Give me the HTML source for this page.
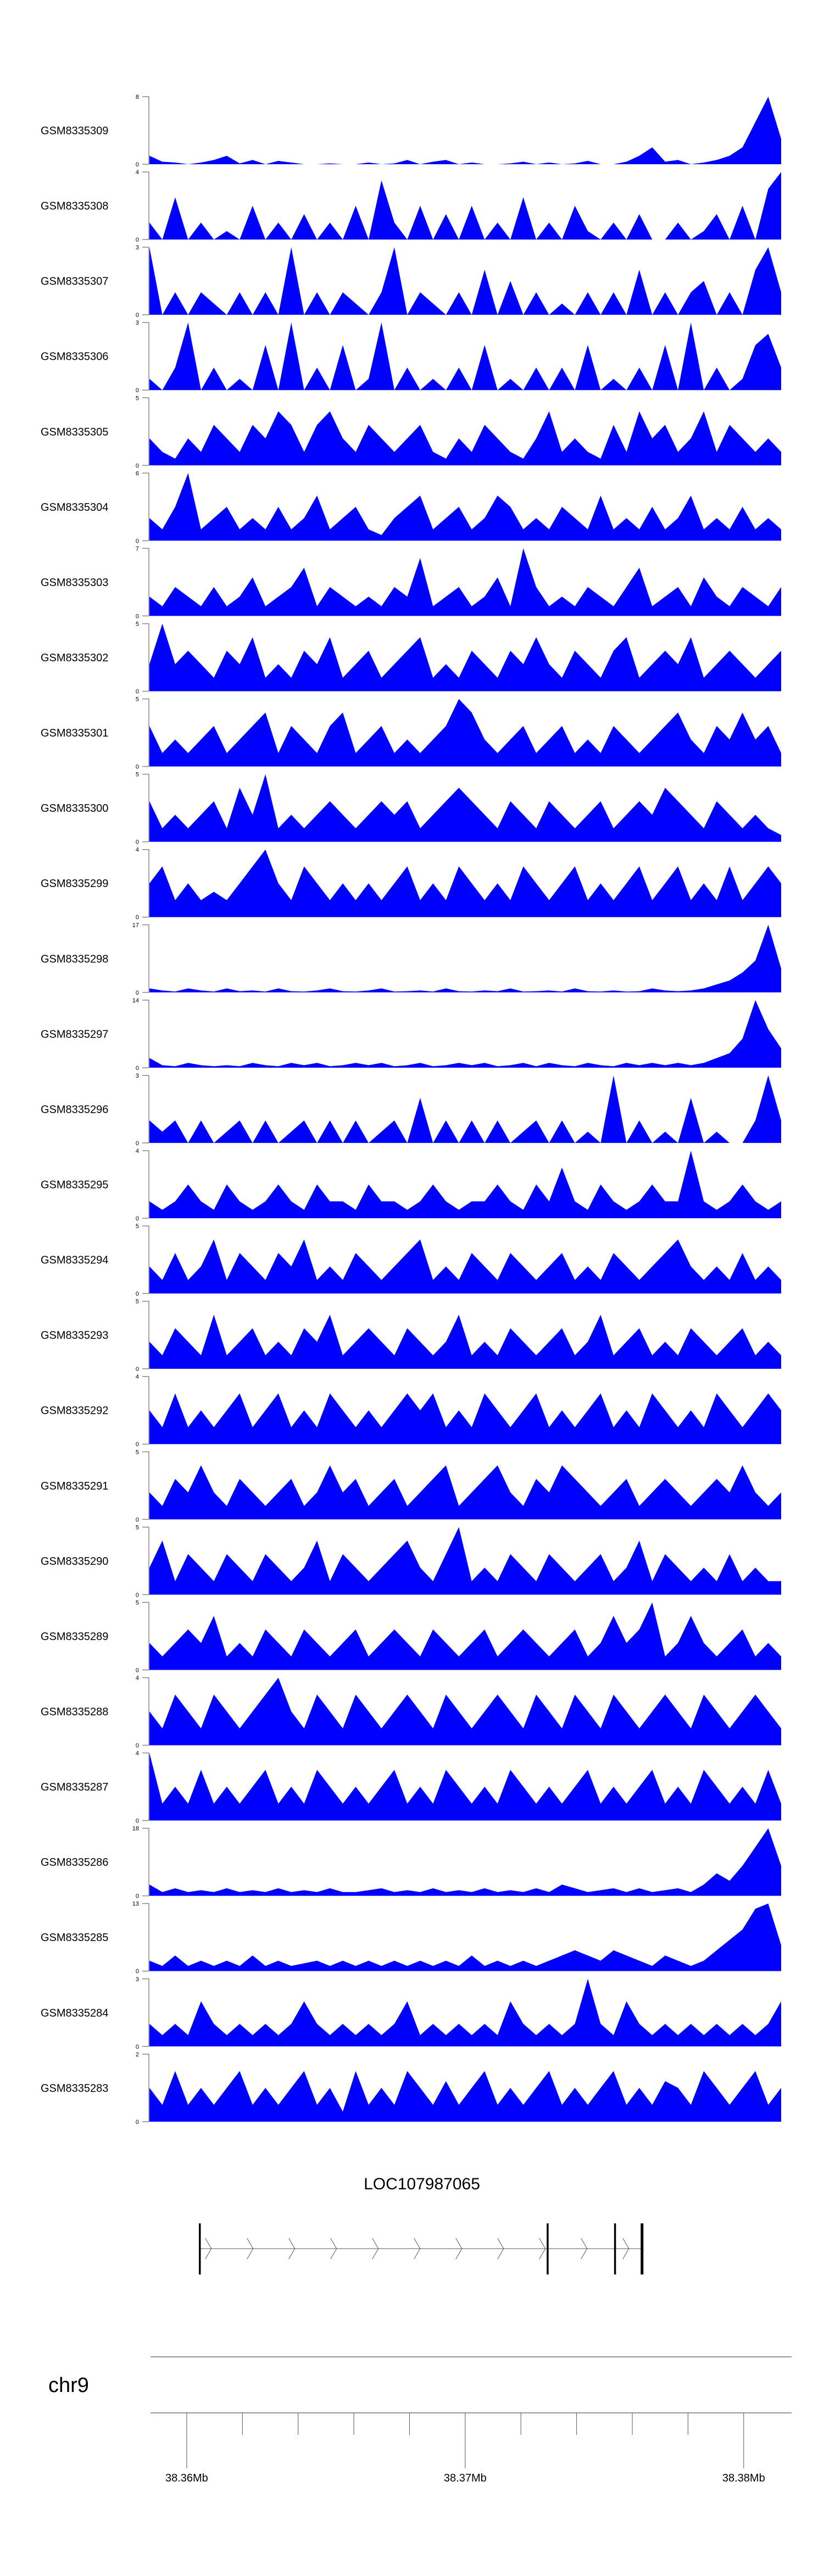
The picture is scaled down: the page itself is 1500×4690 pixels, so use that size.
<!DOCTYPE html>
<html><head><meta charset="utf-8"><title>Coverage tracks</title>
<style>
html,body{margin:0;padding:0;background:#fff;}
svg{display:block;font-family:"Liberation Sans",Arial,sans-serif;}
</style></head>
<body>
<svg id="chart" width="1500" height="4690" viewBox="0 0 1500 4690" xmlns="http://www.w3.org/2000/svg"></svg>
<script>
const sampleNames = ["GSM8335309","GSM8335308","GSM8335307","GSM8335306","GSM8335305","GSM8335304","GSM8335303","GSM8335302","GSM8335301","GSM8335300","GSM8335299","GSM8335298","GSM8335297","GSM8335296","GSM8335295","GSM8335294","GSM8335293","GSM8335292","GSM8335291","GSM8335290","GSM8335289","GSM8335288","GSM8335287","GSM8335286","GSM8335285","GSM8335284","GSM8335283"];
const yMax = [8,4,3,3,5,6,7,5,5,5,4,17,14,3,4,5,5,4,5,5,5,4,4,18,13,3,2];
const s309 = [1,0.3,0.2,0,0.2,0.5,1,0.1,0.5,0,0.4,0.2,0,0,0.1,0,0,0.2,0,0.1,0.5,0,0.3,0.5,0,0.2,0,0,0.1,0.3,0,0.2,0,0.1,0.4,0,0,0.3,1,2,0.3,0.5,0,0.2,0.5,1,2,5,8,3];
const s308 = [1,0,2.5,0,1,0,0.5,0,2,0,1,0,1.5,0,1,0,2,0,3.5,1,0,2,0,1.5,0,2,0,1,0,2.5,0,1,0,2,0.5,0,1,0,1.5,0,0,1,0,0.5,1.5,0,2,0,3,4];
const s307 = [3,0,1,0,1,0.5,0,1,0,1,0,3,0,1,0,1,0.5,0,1,3,0,1,0.5,0,1,0,2,0,1.5,0,1,0,0.5,0,1,0,1,0,2,0,1,0,1,1.5,0,1,0,2,3,1];
const s306 = [0.5,0,1,3,0,1,0,0.5,0,2,0,3,0,1,0,2,0,0.5,3,0,1,0,0.5,0,1,0,2,0,0.5,0,1,0,1,0,2,0,0.5,0,1,0,2,0,3,0,1,0,0.5,2,2.5,1];
const s305 = [2,1,0.5,2,1,3,2,1,3,2,4,3,1,3,4,2,1,3,2,1,2,3,1,0.5,2,1,3,2,1,0.5,2,4,1,2,1,0.5,3,1,4,2,3,1,2,4,1,3,2,1,2,1];
const s304 = [2,1,3,6,1,2,3,1,2,1,3,1,2,4,1,2,3,1,0.5,2,3,4,1,2,3,1,2,4,3,1,2,1,3,2,1,4,1,2,1,3,1,2,4,1,2,1,3,1,2,1];
const s303 = [2,1,3,2,1,3,1,2,4,1,2,3,5,1,3,2,1,2,1,3,2,6,1,2,3,1,2,4,1,7,3,1,2,1,3,2,1,3,5,1,2,3,1,4,2,1,3,2,1,3];
const s302 = [2,5,2,3,2,1,3,2,4,1,2,1,3,2,4,1,2,3,1,2,3,4,1,2,1,3,2,1,3,2,4,2,1,3,2,1,3,4,1,2,3,2,4,1,2,3,2,1,2,3];
const s301 = [3,1,2,1,2,3,1,2,3,4,1,3,2,1,3,4,1,2,3,1,2,1,2,3,5,4,2,1,2,3,1,2,3,1,2,1,3,2,1,2,3,4,2,1,3,2,4,2,3,1];
const s300 = [3,1,2,1,2,3,1,4,2,5,1,2,1,2,3,2,1,2,3,2,3,1,2,3,4,3,2,1,3,2,1,3,2,1,2,3,1,2,3,2,4,3,2,1,3,2,1,2,1,0.5];
const s299 = [2,3,1,2,1,1.5,1,2,3,4,2,1,3,2,1,2,1,2,1,2,3,1,2,1,3,2,1,2,1,3,2,1,2,3,1,2,1,2,3,1,2,3,1,2,1,3,1,2,3,2];
const s298 = [1,0.5,0.2,1,0.5,0.2,1,0.3,0.5,0.2,1,0.3,0.2,0.5,1,0.3,0.2,0.5,1,0.2,0.3,0.5,0.2,1,0.3,0.2,0.5,0.3,1,0.2,0.3,0.5,0.2,1,0.3,0.2,0.5,0.2,0.3,1,0.5,0.3,0.5,1,2,3,5,8,17,6];
const s297 = [2,0.5,0.3,1,0.5,0.3,0.5,0.3,1,0.5,0.3,1,0.5,1,0.3,0.5,1,0.5,1,0.3,0.5,1,0.3,0.5,1,0.5,1,0.3,0.5,1,0.3,1,0.5,0.3,1,0.5,0.3,1,0.5,1,0.5,1,0.5,1,2,3,6,14,8,4];
const s296 = [1,0.5,1,0,1,0,0.5,1,0,1,0,0.5,1,0,1,0,1,0,0.5,1,0,2,0,1,0,1,0,1,0,0.5,1,0,1,0,0.5,0,3,0,1,0,0.5,0,2,0,0.5,0,0,1,3,1];
const s295 = [1,0.5,1,2,1,0.5,2,1,0.5,1,2,1,0.5,2,1,1,0.5,2,1,1,0.5,1,2,1,0.5,1,1,2,1,0.5,2,1,3,1,0.5,2,1,0.5,1,2,1,1,4,1,0.5,1,2,1,0.5,1];
const s294 = [2,1,3,1,2,4,1,3,2,1,3,2,4,1,2,1,3,2,1,2,3,4,1,2,1,3,2,1,3,2,1,2,3,1,2,1,3,2,1,2,3,4,2,1,2,1,3,1,2,1];
const s293 = [2,1,3,2,1,4,1,2,3,1,2,1,3,2,4,1,2,3,2,1,3,2,1,2,4,1,2,1,3,2,1,2,3,1,2,4,1,2,3,1,2,1,3,2,1,2,3,1,2,1];
const s292 = [2,1,3,1,2,1,2,3,1,2,3,1,2,1,3,2,1,2,1,2,3,2,3,1,2,1,3,2,1,2,3,1,2,1,2,3,1,2,1,3,2,1,2,1,3,2,1,2,3,2];
const s291 = [2,1,3,2,4,2,1,3,2,1,2,3,1,2,4,2,3,1,2,3,1,2,3,4,1,2,3,4,2,1,3,2,4,3,2,1,2,3,1,2,3,2,1,2,3,2,4,2,1,2];
const s290 = [2,4,1,3,2,1,3,2,1,3,2,1,2,4,1,3,2,1,2,3,4,2,1,3,5,1,2,1,3,2,1,3,2,1,2,3,1,2,4,1,3,2,1,2,1,3,1,2,1,1];
const s289 = [2,1,2,3,2,4,1,2,1,3,2,1,3,2,1,2,3,1,2,3,2,1,3,2,1,2,3,1,2,3,2,1,2,3,1,2,4,2,3,5,1,2,4,2,1,2,3,1,2,1];
const s288 = [2,1,3,2,1,3,2,1,2,3,4,2,1,3,2,1,3,2,1,2,3,2,1,3,2,1,2,3,2,1,3,2,1,3,2,1,3,2,1,2,3,2,1,3,2,1,2,3,2,1];
const s287 = [4,1,2,1,3,1,2,1,2,3,1,2,1,3,2,1,2,1,2,3,1,2,1,3,2,1,2,1,3,2,1,2,1,2,3,1,2,1,2,3,1,2,1,3,2,1,2,1,3,1];
const s286 = [3,1,2,1,1.5,1,2,1,1.5,1,2,1,1.5,1,2,1,1,1.5,2,1,1.5,1,2,1,1.5,1,2,1,1.5,1,2,1,3,2,1,1.5,2,1,2,1,1.5,2,1,3,6,4,8,13,18,8];
const s285 = [2,1,3,1,2,1,2,1,3,1,2,1,1.5,2,1,2,1,2,1,2,1,2,1,2,1,3,1,2,1,2,1,2,3,4,3,2,4,3,2,1,3,2,1,2,4,6,8,12,13,5];
const s284 = [1,0.5,1,0.5,2,1,0.5,1,0.5,1,0.5,1,2,1,0.5,1,0.5,1,0.5,1,2,0.5,1,0.5,1,0.5,1,0.5,2,1,0.5,1,0.5,1,3,1,0.5,2,1,0.5,1,0.5,1,0.5,1,0.5,1,0.5,1,2];
const s283 = [1,0.5,1.5,0.5,1,0.5,1,1.5,0.5,1,0.5,1,1.5,0.5,1,0.3,1.5,0.5,1,0.5,1.5,1,0.5,1.2,0.5,1,1.5,0.5,1,0.5,1,1.5,0.5,1,0.5,1,1.5,0.5,1,0.5,1.2,1,0.5,1.5,1,0.5,1,1.5,0.5,1];
const seriesList = [s309,s308,s307,s306,s305,s304,s303,s302,s301,s300,s299,s298,s297,s296,s295,s294,s293,s292,s291,s290,s289,s288,s287,s286,s285,s284,s283];
const geneName = "LOC107987065";
const genomeStart = 38.35870, genomeEnd = 38.38172;
const majorTicks = [38.36,38.37,38.38];
const majorTickLabels = ["38.36Mb","38.37Mb","38.38Mb"];
const exonPos = [38.36047,38.37296,38.37538,38.37635];

const NS="http://www.w3.org/2000/svg";
const svg=document.getElementById('chart');
function mk(tag,attrs,parent){const e=document.createElementNS(NS,tag);for(const k in attrs)e.setAttribute(k,attrs[k]);(parent||svg).appendChild(e);return e;}
const X0=272,X1=1422,TOP0=176,PITCH=137.07,TH=123;
function xOf(i,n){return X0+(X1-X0)*i/(n-1);}
function gx(p){return 274+(p-genomeStart)/(genomeEnd-genomeStart)*(1441-274);}

seriesList.forEach((vals,t)=>{
  const top=TOP0+t*PITCH, bot=top+TH;
  const g=mk('g',{});
  
  
  const yOf=v=>bot-(v/yMax[t])*TH;
  const lab=mk('text',{x:74,y:top+TH/2+7,'font-size':20,fill:'#000'},g);
  lab.textContent=sampleNames[t];
  
  
  const ax=mk('path',{d:`M259 ${top}H271V${bot}H259`,stroke:'#888',fill:'none','stroke-width':1.5},g);
  
  
  const t1=mk('text',{x:253,y:top+4,'font-size':11,'text-anchor':'end',fill:'#000'},g);t1.textContent=String(yMax[t]);
  
  
  const t0=mk('text',{x:253,y:bot+4,'font-size':11,'text-anchor':'end',fill:'#000'},g);t0.textContent='0';
  
  
  let d=`M${X0} ${bot}`;
  vals.forEach((v,i)=>{d+=`L${xOf(i,vals.length).toFixed(1)} ${yOf(v).toFixed(1)}`;});
  d+=`L${X1} ${bot}Z`;
  const ar=mk('path',{d:d,fill:'#0000FF',stroke:'none'},g);
  
  
});

// gene track
const gt=mk('text',{x:768,y:3986,'font-size':30,'text-anchor':'middle',fill:'#000'});
gt.textContent=geneName;


const gs=gx(exonPos[0]), ge=gx(exonPos[exonPos.length-1]);
const intr=mk('line',{x1:gs,y1:4094,x2:ge,y2:4094,stroke:'#555','stroke-width':1});


for(let cx=gs+21;cx<ge;cx+=76){
  const c=mk('path',{d:`M${cx-11} 4075L${cx} 4094L${cx-11} 4113`,stroke:'#555',fill:'none','stroke-width':1});
  
  
}
exonPos.forEach((p,i)=>{
  const e=mk('line',{x1:gx(p),y1:4048,x2:gx(p),y2:4141,stroke:'#000','stroke-width':i===exonPos.length-1?5:3.5});
  
  
});

// genome axis
const ch=mk('text',{x:88,y:4355,'font-size':38,fill:'#000'});ch.textContent='chr9';


const l1=mk('line',{x1:274,y1:4291,x2:1441,y2:4291,stroke:'#777','stroke-width':1.5});


const l2=mk('line',{x1:274,y1:4393,x2:1441,y2:4393,stroke:'#777','stroke-width':1.5});


for(let k=0;k<=10;k++){
  const p=38.36+k*0.002;
  const major=majorTicks.some(m=>Math.abs(m-p)<1e-6);
  const tk=mk('line',{x1:gx(p),y1:4393,x2:gx(p),y2:major?4494:4433,stroke:'#555','stroke-width':1});
  
  
}
majorTicks.forEach((m,i)=>{
  const tl=mk('text',{x:gx(m),y:4518,'font-size':20,'text-anchor':'middle',fill:'#000'});
  tl.textContent=majorTickLabels[i];
  
  
});
</script>
</body></html>
